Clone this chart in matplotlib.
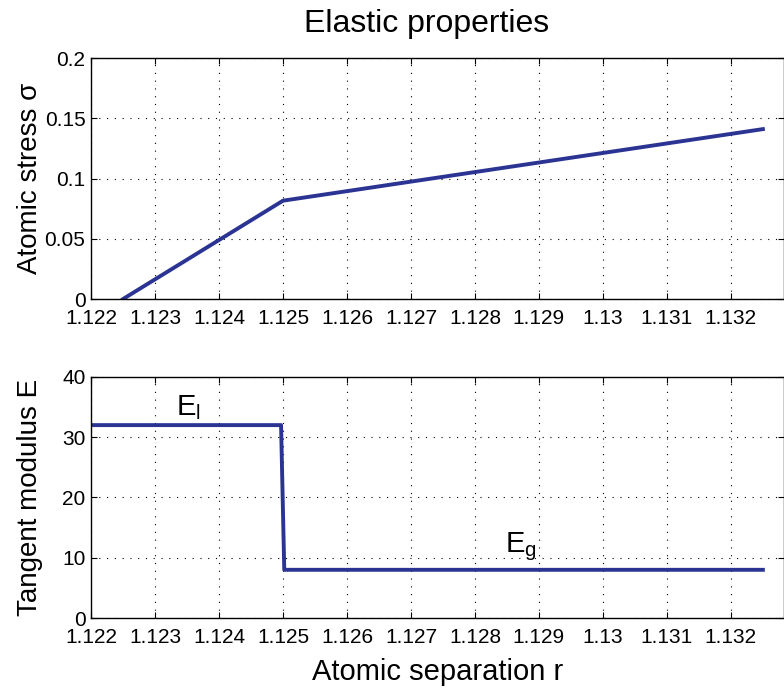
import matplotlib
matplotlib.use('Agg')
import matplotlib.pyplot as plt

# stress-strain curve (piecewise linear)
r_stress = [1.1225, 1.1250, 1.1325]
stress = [0.0, 0.0816, 0.141]

# tangent modulus (step at r = 1.125)
r_mod = [1.1220, 1.12497, 1.12502, 1.1325]
modulus = [32, 32, 8, 8]

xticks = [1.122, 1.123, 1.124, 1.125, 1.126, 1.127, 1.128, 1.129, 1.13, 1.131, 1.132]
xtick_labels = ['1.122', '1.123', '1.124', '1.125', '1.126', '1.127', '1.128',
                '1.129', '1.13', '1.131', '1.132']

line_color = '#2b3393'

plt.rcParams['font.family'] = ['Liberation Sans', 'DejaVu Sans']
plt.rcParams['mathtext.fontset'] = 'custom'
plt.rcParams['mathtext.rm'] = 'Liberation Sans'

fig = plt.figure(figsize=(7.84, 6.89), dpi=100)
ax1 = fig.add_axes([0.1161, 0.566, 0.8839, 0.3498])
ax2 = fig.add_axes([0.1161, 0.103, 0.8839, 0.350])


def style(ax):
    ax.set_xlim(1.122, 1.13283)
    ax.set_xticks(xticks)
    ax.set_xticklabels(xtick_labels)
    ax.tick_params(direction='in', length=4, width=0.8, top=True, right=True,
                   labelsize=15)
    ax.tick_params(axis='x', pad=7)
    ax.tick_params(axis='y', pad=4)
    ax.grid(True, linestyle=(0, (1, 6)), color='black', linewidth=0.8)
    for s in ax.spines.values():
        s.set_linewidth(1.0)
    ax.yaxis.set_label_coords(-0.07, 0.5)


ax1.plot(r_stress, stress, color=line_color, linewidth=2.8)
style(ax1)
ax1.set_ylim(0, 0.2)
ax1.set_yticks([0, 0.05, 0.1, 0.15, 0.2])
ax1.set_yticklabels(['0', '0.05', '0.1', '0.15', '0.2'])
ax1.set_ylabel('Atomic stress σ', fontsize=20)
ax1.set_title('Elastic properties', fontsize=23, pad=19, x=0.484)

ax2.plot(r_mod, modulus, color=line_color, linewidth=2.8)
style(ax2)
ax2.set_ylim(0, 40)
ax2.set_yticks([0, 10, 20, 30, 40])
ax2.set_ylabel('Tangent modulus E', fontsize=20)
ax2.set_xlabel('Atomic separation r', fontsize=21, labelpad=8)
ax2.text(1.12333, 33.7, r'E$_\mathrm{l}$', fontsize=21, ha='left', va='baseline')
ax2.text(1.12847, 10.9, r'E$_\mathrm{g}$', fontsize=21, ha='left', va='baseline')

fig.savefig('out.png', dpi=100)
